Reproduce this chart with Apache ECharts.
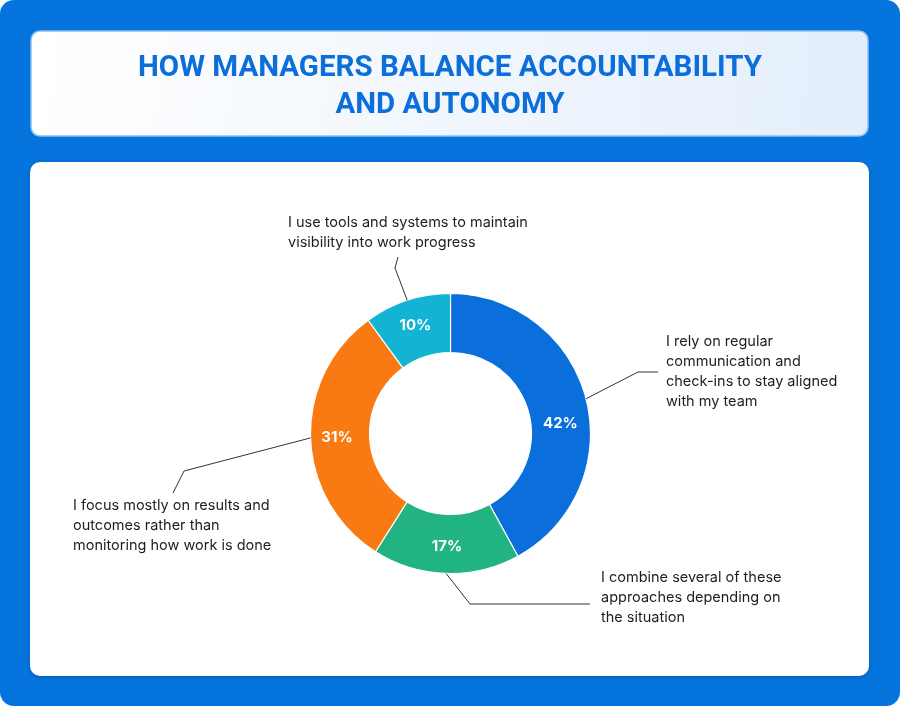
<!DOCTYPE html>
<html>
<head>
<meta charset="utf-8">
<script src="https://cdn.jsdelivr.net/npm/echarts@6/dist/echarts.min.js"></script>
<style>
html,body{margin:0;padding:0;background:#ffffff;}
#chart{width:900px;height:706px;}
</style>
</head>
<body>
<div id="chart"></div>
<script>
// ---- data ----
const titleText = 'HOW MANAGERS BALANCE ACCOUNTABILITY\nAND AUTONOMY';
const categories = [
  'I rely on regular\ncommunication and\ncheck-ins to stay aligned\nwith my team',
  'I combine several of these\napproaches depending on\nthe situation',
  'I focus mostly on results and\noutcomes rather than\nmonitoring how work is done',
  'I use tools and systems to maintain\nvisibility into work progress'
];
const values = [42, 17, 31, 10];
const colors = ['#0A6FDB', '#22B383', '#F97A13', '#13B4D3'];

// ---- layout (label boxes: left, top) and guide-line bends relative to box ----
const labelBoxes = [[666, 332], [601, 568], [73, 496], [288, 213]];
const guideBends = [
  [[-28, 40], [-8, 40]],
  [[-131, 36], [-11, 36]],
  [[111, -25], [100, -3]],
  [[107, 55], [110, 44]]
];
const insideLabelShift = [[0, 18], [0, 0], [0, 0], [0, 0]];

const chart = echarts.init(document.getElementById('chart'), null, {renderer: 'canvas'});
const pieData = categories.map((c, i) => ({name: c, value: values[i], itemStyle: {color: colors[i]}}));
const bodyFont = 'Inter, Roboto, sans-serif';

chart.setOption({
  animation: false,
  graphic: [
    {type: 'rect', z: -10, shape: {x: 0, y: 0, width: 900, height: 706, r: 14}, style: {fill: '#0574DC'}},
    {type: 'rect', z: -9, shape: {x: 31, y: 31, width: 837, height: 105, r: 9},
      style: {
        fill: new echarts.graphic.LinearGradient(0, 0, 1, 1, [
          {offset: 0, color: '#FFFFFF'}, {offset: 1, color: '#E3EEFB'}
        ]),
        stroke: '#8CC0F2', lineWidth: 1.5
      }},
    {type: 'rect', z: -9, shape: {x: 30, y: 162, width: 839, height: 514, r: 10},
      style: {fill: '#FFFFFF', shadowBlur: 4, shadowColor: 'rgba(0,40,120,0.35)', shadowOffsetY: 1}}
  ],
  title: {
    text: titleText,
    left: 'center',
    top: 45,
    textStyle: {
      fontFamily: 'Roboto, sans-serif',
      fontWeight: 700,
      fontSize: 29.5,
      lineHeight: 37,
      color: '#0B6ED9'
    }
  },
  series: [
    {
      type: 'pie',
      center: [450.5, 433.5],
      radius: [81, 140],
      startAngle: 90,
      silent: true,
      itemStyle: {borderColor: '#ffffff', borderWidth: 1.2},
      label: {
        show: true,
        position: 'inside',
        formatter: '{c}%',
        color: '#ffffff',
        fontFamily: 'Inter, Roboto, sans-serif',
        fontWeight: 700,
        fontSize: 15
      },
      labelLine: {show: false},
      labelLayout: function (params) {
        const s = insideLabelShift[params.dataIndex];
        return {dx: s[0], dy: s[1]};
      },
      emphasis: {disabled: true},
      data: pieData
    },
    {
      type: 'pie',
      center: [450.5, 433.5],
      radius: [81, 140],
      startAngle: 90,
      silent: true,
      z: 3,
      itemStyle: {color: 'rgba(0,0,0,0)', borderWidth: 0},
      label: {
        show: true,
        position: 'outside',
        formatter: '{b}',
        color: '#1E1E1E',
        fontFamily: bodyFont,
        fontSize: 14.5,
        lineHeight: 20,
        width: 290,
        overflow: 'none'
      },
      labelLine: {show: true, length: 12, length2: 12, lineStyle: {color: '#333333', width: 1}},
      labelLayout: function (params) {
        const i = params.dataIndex;
        const box = labelBoxes[i];
        const bends = guideBends[i];
        const res = {x: box[0], y: box[1], align: 'left', verticalAlign: 'top'};
        if (params.labelLinePoints && params.labelLinePoints[0]) {
          res.labelLinePoints = [
            params.labelLinePoints[0],
            [box[0] + bends[0][0], box[1] + bends[0][1]],
            [box[0] + bends[1][0], box[1] + bends[1][1]]
          ];
        }
        return res;
      },
      emphasis: {disabled: true},
      data: categories.map((c, i) => ({name: c, value: values[i]}))
    }
  ]
});
</script>
</body>
</html>
